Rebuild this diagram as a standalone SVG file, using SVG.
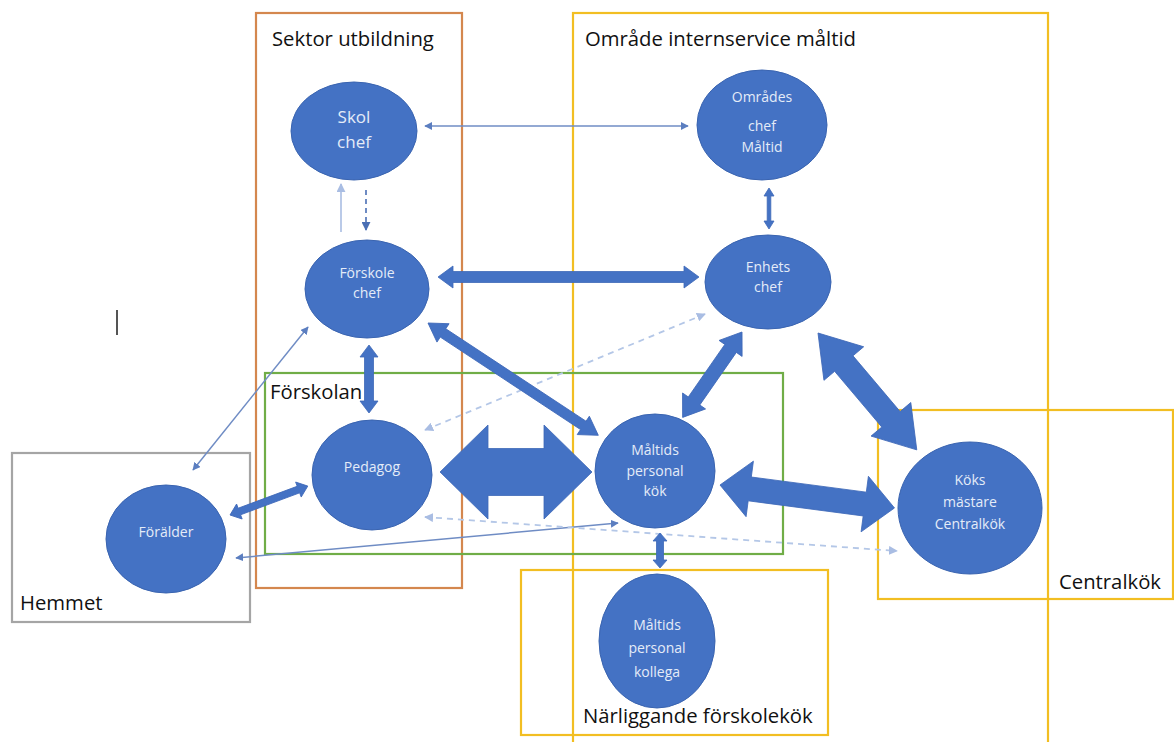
<svg xmlns="http://www.w3.org/2000/svg" width="1174" height="742" viewBox="0 0 1174 742">
<defs>
<style>
.box{fill:none;stroke-width:2.2}
.lbl{font-family:"Open Sans","Liberation Sans",sans-serif;font-size:20.3px;fill:#111}
.node{fill:#4472C4;stroke:#3A64B0;stroke-width:1}
.nt{font-family:"Open Sans","Liberation Sans",sans-serif;font-size:14px;fill:#E4ECF8;text-anchor:middle}
.blk{fill:#4472C4;stroke:#3E68B8;stroke-width:0.8}
.thin{fill:none;stroke:#6F8CC4;stroke-width:1.5}
.dash{fill:none;stroke:#B4C7E7;stroke-width:1.8;stroke-dasharray:6 5}
</style>
<marker id="ah" viewBox="0 0 10 10" refX="9" refY="5" markerWidth="8" markerHeight="8" markerUnits="userSpaceOnUse" orient="auto-start-reverse"><path d="M0,0 L10,5 L0,10 z" fill="#5B7EC0"/></marker>
<marker id="ahl" viewBox="0 0 10 10" refX="9" refY="5" markerWidth="9" markerHeight="9" markerUnits="userSpaceOnUse" orient="auto-start-reverse"><path d="M0,0 L10,5 L0,10 z" fill="#A9BDE3"/></marker>
<marker id="ahd" viewBox="0 0 10 10" refX="9" refY="5" markerWidth="9" markerHeight="9" markerUnits="userSpaceOnUse" orient="auto-start-reverse"><path d="M0,0 L10,5 L0,10 z" fill="#4A6FB5"/></marker>
</defs>
<rect width="1174" height="742" fill="#ffffff"/>

<g id="boxes">
<rect class="box" x="256" y="13" width="206" height="575" stroke="#D4874E"/>
<rect class="box" x="573" y="13" width="475" height="740" stroke="#F2BE22"/>
<rect class="box" x="265" y="373" width="518" height="181" stroke="#70AD47"/>
<rect class="box" x="12" y="453" width="238" height="169" stroke="#A5A5A5"/>
<rect class="box" x="521" y="570" width="307" height="165" stroke="#F2BE22"/>
<rect class="box" x="878" y="410" width="295" height="189" stroke="#F2BE22"/>
<text class="lbl" x="272" y="46">Sektor utbildning</text>
<text class="lbl" x="585" y="46">Område internservice måltid</text>
<text class="lbl" x="270" y="399">Förskolan</text>
<text class="lbl" x="20" y="610">Hemmet</text>
<text class="lbl" x="583" y="723">Närliggande förskolekök</text>
<text class="lbl" x="1059" y="589">Centralkök</text>
<rect x="116" y="310" width="2" height="25" fill="#555"/>
</g>

<g id="connectors">
<line class="thin" x1="425" y1="126" x2="688" y2="126" marker-start="url(#ah)" marker-end="url(#ah)"/>
<line x1="366" y1="190" x2="366" y2="230" stroke="#4A6FB5" stroke-width="1.6" stroke-dasharray="5 4" marker-end="url(#ahd)"/>
<line x1="341" y1="232" x2="341" y2="184" stroke="#A9BDE3" stroke-width="1.6" marker-end="url(#ahl)"/>
<line class="thin" x1="193" y1="470" x2="308" y2="327" marker-start="url(#ah)" marker-end="url(#ah)"/>
<line class="thin" x1="236" y1="558" x2="618" y2="523" marker-start="url(#ah)" marker-end="url(#ah)"/>
<line class="dash" x1="705" y1="314" x2="425" y2="430" marker-start="url(#ahl)" marker-end="url(#ahl)"/>
<line class="dash" x1="425" y1="517" x2="897" y2="551" marker-start="url(#ahl)" marker-end="url(#ahl)"/>

<path class="blk" transform="translate(438,277)" d="M0,0 L15,-11 L15,-5.5 L246,-5.5 L246,-11 L261,0 L246,11 L246,5.5 L15,5.5 L15,11 Z"/>
<path class="blk" transform="translate(769,188) rotate(90)" d="M0,0 L8,-5 L8,-1.8 L33,-1.8 L33,-5 L41,0 L33,5 L33,1.8 L8,1.8 L8,5 Z"/>
<path class="blk" transform="translate(369,345) rotate(90)" d="M0,0 L12,-9 L12,-4.5 L56,-4.5 L56,-9 L68,0 L56,9 L56,4.5 L12,4.5 L12,9 Z"/>
<path class="blk" transform="translate(428,323) rotate(33.4)" d="M0,0 L18,-11 L18,-5 L186,-5 L186,-11 L204,0 L186,11 L186,5 L18,5 L18,11 Z"/>
<path class="blk" transform="translate(742,332) rotate(124.8)" d="M0,0 L20,-14 L20,-7 L84,-7 L84,-14 L104,0 L84,14 L84,7 L20,7 L20,14 Z"/>
<path class="blk" transform="translate(818,333) rotate(49.8)" d="M0,0 L40,-26 L40,-12 L113,-12 L113,-26 L153,0 L113,26 L113,12 L40,12 L40,26 Z"/>
<path class="blk" transform="translate(440,472)" d="M0,0 L48,-47 L48,-23.5 L104,-23.5 L104,-47 L152,0 L104,47 L104,23.5 L48,23.5 L48,47 Z"/>
<path class="blk" transform="translate(720,485) rotate(7.5)" d="M0,0 L30,-28 L30,-12 L146,-12 L146,-28 L176,0 L146,28 L146,12 L30,12 L30,28 Z"/>
<path class="blk" transform="translate(230,515) rotate(-20.4)" d="M0,0 L10,-8 L10,-3.5 L73,-3.5 L73,-8 L83,0 L73,8 L73,3.5 L10,3.5 L10,8 Z"/>
<path class="blk" transform="translate(660,533) rotate(90)" d="M0,0 L8,-7 L8,-3.5 L27,-3.5 L27,-7 L35,0 L27,7 L27,3.5 L8,3.5 L8,7 Z"/>
</g>

<g id="skolchef"><ellipse class="node" cx="354" cy="131" rx="63" ry="49"/><text class="nt" style="font-size:17px" x="354" y="123">Skol</text><text class="nt" style="font-size:17px" x="354" y="148">chef</text></g>
<g id="omradeschef"><ellipse class="node" cx="762" cy="125" rx="65" ry="55"/><text class="nt" x="762" y="102">Områdes</text><text class="nt" x="762" y="131">chef</text><text class="nt" x="762" y="152">Måltid</text></g>
<g id="forskolechef"><ellipse class="node" cx="367" cy="289" rx="62" ry="49"/><text class="nt" x="367" y="278">Förskole</text><text class="nt" x="367" y="298">chef</text></g>
<g id="enhetschef"><ellipse class="node" cx="768" cy="282" rx="63" ry="47"/><text class="nt" x="768" y="272">Enhets</text><text class="nt" x="768" y="292">chef</text></g>
<g id="pedagog"><ellipse class="node" cx="372" cy="475" rx="60" ry="55"/><text class="nt" x="372" y="472">Pedagog</text></g>
<g id="foralder"><ellipse class="node" cx="166" cy="539" rx="60" ry="54"/><text class="nt" x="166" y="537">Förälder</text></g>
<g id="maltidskok"><ellipse class="node" cx="655" cy="471" rx="60" ry="57"/><text class="nt" x="655" y="455">Måltids</text><text class="nt" x="655" y="476">personal</text><text class="nt" x="655" y="496">kök</text></g>
<g id="koksmastare"><ellipse class="node" cx="970" cy="508" rx="72" ry="66"/><text class="nt" x="970" y="485">Köks</text><text class="nt" x="970" y="507">mästare</text><text class="nt" x="970" y="529">Centralkök</text></g>
<g id="maltidskollega"><ellipse class="node" cx="657" cy="641" rx="58" ry="67"/><text class="nt" x="657" y="630">Måltids</text><text class="nt" x="657" y="653">personal</text><text class="nt" x="657" y="677">kollega</text></g>
</svg>
